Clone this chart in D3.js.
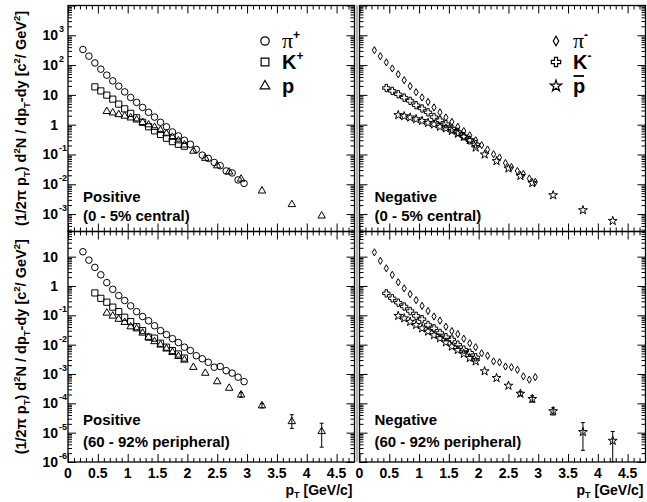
<!DOCTYPE html>
<html><head><meta charset="utf-8">
<script src="https://cdn.jsdelivr.net/npm/d3@7"></script>
<style>
body{margin:0;background:#fff;}
text{font-family:"Liberation Sans",Arial,sans-serif;font-weight:bold;fill:#000;}
</style></head>
<body><svg id="c" width="647" height="502"></svg>
<script>
// ---- data ----
const ptPi = [0.25,0.35,0.45,0.55,0.65,0.75,0.85,0.95,1.05,1.15,1.25,1.35,1.45,1.55,1.65,1.75,1.85,1.95,2.05,2.15,2.25,2.35,2.45,2.55,2.65,2.75,2.85,2.95];
const ptK = [0.45,0.55,0.65,0.75,0.85,0.95,1.05,1.15,1.25,1.35,1.45,1.55,1.65,1.75,1.85,1.95];
const ptP = [0.65,0.75,0.85,0.95,1.05,1.15,1.25,1.35,1.45,1.55,1.65,1.75,1.85,1.95,2.1,2.3,2.5,2.7,2.9,3.25,3.75,4.25];

// central 0-5%
const piPlusCentral = [333,200,118,73,46,29.5,19.6,12.6,8.2,5.6,3.8,2.6,1.8,1.2,0.85,0.57,0.42,0.30,0.22,0.148,0.095,0.074,0.054,0.042,0.028,0.024,0.014,0.0107];
const kPlusCentral = [18.6,13.6,9.8,7.2,4.9,3.4,2.4,1.7,1.2,0.85,0.62,0.47,0.35,0.27,0.22,0.19];
const pCentral = [2.8,2.5,2.2,1.95,1.7,1.45,1.2,1.0,0.82,0.65,0.5,0.38,0.29,0.21,0.13,0.075,0.042,0.026,0.015,0.006,0.0021,0.00087];
const piMinusCentral = [316,199,123,77,49.5,31,19.6,12.3,8.2,5.8,3.8,2.6,1.75,1.24,0.85,0.61,0.44,0.30,0.205,0.147,0.102,0.079,0.052,0.038,0.028,0.022,0.0156,0.012];
const kMinusCentral = [17,13.6,10.5,8.1,6.3,4.5,3.5,2.6,1.8,1.4,1.04,0.74,0.57,0.41,0.30,0.22];
const pbarCentral = [2.1,1.93,1.74,1.53,1.34,1.15,1.02,0.85,0.75,0.62,0.5,0.39,0.3,0.17,0.1,0.06,0.034,0.019,0.011,0.0043,0.00135,0.00059];

// peripheral 60-92%
const piPlusPeriph = [14.7,7.6,4.3,2.4,1.3,0.77,0.47,0.32,0.21,0.134,0.091,0.065,0.044,0.030,0.022,0.016,0.0118,0.0082,0.0063,0.0042,0.0033,0.0025,0.0017,0.0018,0.0013,0.00107,0.00078,0.00055];
const kPlusPeriph = [0.58,0.38,0.28,0.19,0.134,0.086,0.061,0.041,0.030,0.018,0.0167,0.0112,0.0082,0.0063,0.0048,0.0035];
const pPeriph = [0.12,0.095,0.074,0.058,0.041,0.035,0.025,0.018,0.0128,0.0098,0.0072,0.0055,0.0040,0.0030,0.0017,0.00107,0.00055,0.00033,0.000195,8.3e-5,2.4e-5,1.1e-5];
const pPeriphErrLo = [null,null,null,null,null,null,null,null,null,null,null,null,null,null,null,null,null,null,1.6e-4,7.0e-5,1.4e-5,3.2e-6];
const pPeriphErrHi = [null,null,null,null,null,null,null,null,null,null,null,null,null,null,null,null,null,null,2.3e-4,9.8e-5,4.1e-5,2.1e-5];
const piMinusPeriph = [14,7.2,4.0,2.4,1.34,0.83,0.53,0.33,0.21,0.141,0.091,0.066,0.041,0.029,0.023,0.016,0.0112,0.0082,0.0051,0.0042,0.0027,0.0025,0.0018,0.0017,0.00139,0.00083,0.00064,0.00078];
const kMinusPeriph = [0.56,0.38,0.27,0.20,0.14,0.096,0.074,0.047,0.036,0.025,0.018,0.015,0.010,0.0068,0.0053,0.0037];
const pbarPeriph = [0.096,0.079,0.060,0.047,0.036,0.028,0.021,0.0165,0.012,0.0086,0.0066,0.0049,0.0035,0.0027,0.00124,0.00073,0.0004,0.000213,0.000141,5.4e-5,1.05e-5,5.3e-6];
const pbarPeriphErrLo = [null,null,null,null,null,null,null,null,null,null,null,null,null,null,null,null,null,1.8e-4,1.1e-4,4.0e-5,2.5e-6,1.0e-6];
const pbarPeriphErrHi = [null,null,null,null,null,null,null,null,null,null,null,null,null,null,null,null,null,2.5e-4,1.8e-4,7.0e-5,2.2e-5,1.1e-5];

const xTickLabels = ["0","0.5","1","1.5","2","2.5","3","3.5","4","4.5"];
const xTickValues = [0,0.5,1,1.5,2,2.5,3,3.5,4,4.5];
const yTopTicks = [1e-3,1e-2,1e-1,1,10,1e2,1e3];
const yBotTicks = [1e-6,1e-5,1e-4,1e-3,1e-2,1e-1,1,10];

// ---- layout ----
const svg = d3.select("#c");
const cols = [{x0:68,x1:354.5},{x0:359.5,x1:645.5}];
const rows = [{y0:5.5,y1:231.5,dom:[2.6e-4,1e4],ticks:yTopTicks},{y0:231.5,y1:462,dom:[1e-6,72],ticks:yBotTicks}];

const sym = {
  circle:d3.symbol(d3.symbolCircle,34),
  square:d3.symbol(d3.symbolSquare,38),
  triangle:d3.symbol(d3.symbolTriangle,24),
  diamond:d3.symbol(d3.symbolDiamond,15),
  cross:d3.symbol(d3.symbolCross,30),
  star:d3.symbol(d3.symbolStar,24)
};

const panels = [
  {c:0,r:0,series:[[ptPi,piPlusCentral,"circle"],[ptK,kPlusCentral,"square"],[ptP,pCentral,"triangle"]],lab:["Positive","(0 - 5% central)"]},
  {c:1,r:0,series:[[ptPi,piMinusCentral,"diamond"],[ptK,kMinusCentral,"cross"],[ptP,pbarCentral,"star"]],lab:["Negative","(0 - 5% central)"]},
  {c:0,r:1,series:[[ptPi,piPlusPeriph,"circle"],[ptK,kPlusPeriph,"square"],[ptP,pPeriph,"triangle",pPeriphErrLo,pPeriphErrHi]],lab:["Positive","(60 - 92% peripheral)"]},
  {c:1,r:1,series:[[ptPi,piMinusPeriph,"diamond"],[ptK,kMinusPeriph,"cross"],[ptP,pbarPeriph,"star",pbarPeriphErrLo,pbarPeriphErrHi]],lab:["Negative","(60 - 92% peripheral)"]}
];

// seam line
svg.append("line").attr("x1",357).attr("x2",357).attr("y1",5).attr("y2",462).attr("stroke","#b0b0b0").attr("stroke-width",2);

panels.forEach(P=>{
  const C = cols[P.c], R = rows[P.r];
  const x = d3.scaleLinear().domain([0,4.8]).range([C.x0,C.x1]);
  const y = d3.scaleLog().domain(R.dom).range([R.y1,R.y0]);
  const g = svg.append("g");
  const clipId = "clip"+P.c+P.r;
  svg.append("clipPath").attr("id",clipId).append("rect").attr("x",C.x0).attr("y",R.y0).attr("width",C.x1-C.x0).attr("height",R.y1-R.y0);

  // ticks
  const xMinor = d3.range(0,48).map(i=>i/10).filter(v=>Math.abs(v*2-Math.round(v*2))>1e-6);
  const yAll = y.ticks().filter(v=>v>=R.dom[0]&&v<=R.dom[1]);
  const yMaj = yAll.filter(v=>Math.abs(Math.log10(v)-Math.round(Math.log10(v)))<1e-9);
  const yMin = yAll.filter(v=>!yMaj.includes(v));
  const mk = (axis,vals,size,tr)=>{
    const a = g.append("g").attr("transform",tr).call(axis.tickValues(vals).tickSizeInner(-size).tickSizeOuter(0).tickFormat(""));
    a.select(".domain").remove();
    a.selectAll("line").attr("stroke","#000").attr("stroke-width",1);
  };
  mk(d3.axisBottom(x),xTickValues,8,`translate(0,${R.y1})`);
  mk(d3.axisBottom(x),xMinor,4,`translate(0,${R.y1})`);
  mk(d3.axisTop(x),xTickValues,8,`translate(0,${R.y0})`);
  mk(d3.axisTop(x),xMinor,4,`translate(0,${R.y0})`);
  mk(d3.axisLeft(y),yMaj,8,`translate(${C.x0},0)`);
  mk(d3.axisLeft(y),yMin,4,`translate(${C.x0},0)`);
  mk(d3.axisRight(y),yMaj,8,`translate(${C.x1},0)`);
  mk(d3.axisRight(y),yMin,4,`translate(${C.x1},0)`);

  g.append("rect").attr("x",C.x0).attr("y",R.y0).attr("width",C.x1-C.x0).attr("height",R.y1-R.y0)
    .attr("fill","none").attr("stroke","#000").attr("stroke-width",1.3);

  // data
  const dg = g.append("g").attr("clip-path",`url(#${clipId})`);
  P.series.forEach(([xs,ys,s,lo,hi])=>{
    if(lo){
      xs.forEach((xv,i)=>{
        if(lo[i]==null) return;
        const yl = y(Math.max(lo[i],R.dom[0])), yh = y(hi[i]);
        dg.append("line").attr("x1",x(xv)).attr("x2",x(xv)).attr("y1",yl).attr("y2",yh).attr("stroke","#000").attr("stroke-width",1);
        [yl,yh].forEach(yy=>dg.append("line").attr("x1",x(xv)-2).attr("x2",x(xv)+2).attr("y1",yy).attr("y2",yy).attr("stroke","#000").attr("stroke-width",1));
      });
    }
    dg.selectAll(null).data(xs.map((xv,i)=>[xv,ys[i]])).join("path")
      .attr("d",sym[s]).attr("transform",d=>`translate(${x(d[0])},${y(d[1])})`)
      .attr("fill","none").attr("stroke","#000").attr("stroke-width",1);
  });

  // y tick labels (left column only)
  if(P.c===0){
    R.ticks.forEach(v=>{
      const e = Math.round(Math.log10(v));
      const yy = y(v);
      const base = (e===0)?"1":"10";
      g.append("text").attr("x",58).attr("y",yy+5).attr("text-anchor","end").style("font-size","14px").text(base);
      if(e!==0 && e!==1){
        g.append("text").attr("x",59).attr("y",yy-3).attr("text-anchor","start").style("font-size","9px").text(e);
      }
    });
    // y title
    const cy = (R.y0+R.y1)/2;
    const t = svg.append("text").attr("transform",`translate(26,${cy}) rotate(-90)`).attr("text-anchor","middle").style("font-size","14.5px");
    const parts = [["(1/2π p",0],["T",1],[") d",0],["2",2],["N / dp",0],["T",1],["-dy [c",0],["2",2],["/ GeV",0],["2",2],["]",0]];
    let prev = 0;
    parts.forEach(([s,k])=>{
      const off = k===1?4:(k===2?-6:0);
      const ts = t.append("tspan").attr("dy",off-prev).text(s);
      if(k>0) ts.style("font-size","9.5px");
      prev = off;
    });
  }
  // x tick labels (bottom row only)
  if(P.r===1){
    xTickValues.forEach((v,i)=>{
      g.append("text").attr("x",x(v)).attr("y",478).attr("text-anchor","middle").style("font-size","14px").text(xTickLabels[i]);
    });
    const xt = svg.append("text").attr("x",C.x1-2).attr("y",495).attr("text-anchor","end").style("font-size","14px");
    xt.append("tspan").text("p");
    xt.append("tspan").attr("dy",3).style("font-size","9px").text("T");
    xt.append("tspan").attr("dy",-3).text(" [GeV/c]");
  }
  // annotations
  const ay = P.r===0?[202,221]:[425,447];
  g.append("text").attr("x",C.x0+15).attr("y",ay[0]).style("font-size","15px").text(P.lab[0]);
  g.append("text").attr("x",C.x0+15).attr("y",ay[1]).style("font-size","15px").text(P.lab[1]);
});

// legends
const legY = [41,62,86];
const legL = [["circle","π","+"],["square","K","+"],["triangle","p",""]];
const legR = [["diamond","π","-"],["cross","K","-"],["star","p",""]];
const bigSym = {circle:55,square:60,triangle:40,diamond:26,cross:48,star:40};
function legend(items,sx,tx){
  items.forEach(([s,lbl,sup],i)=>{
    svg.append("path").attr("d",d3.symbol(d3["symbol"+s[0].toUpperCase()+s.slice(1)],bigSym[s])())
      .attr("transform",`translate(${sx},${legY[i]})`).attr("fill","none").attr("stroke","#000").attr("stroke-width",1.2);
    const t = svg.append("text").attr("x",tx).attr("y",legY[i]+7).style("font-size","20px");
    if(lbl==="π"){ t.style("font-family","'Liberation Serif',serif").style("font-weight","normal").style("font-size","22px"); }
    t.append("tspan").text(lbl);
    if(sup) t.append("tspan").attr("dy",-9).style("font-size","12px").style("font-family","'Liberation Sans',sans-serif").style("font-weight","bold").text(sup);
  });
}
legend(legL,265,282);
legend(legR,556,573);
// antiproton bar
svg.append("line").attr("x1",573.5).attr("x2",584).attr("y1",76).attr("y2",76).attr("stroke","#000").attr("stroke-width",1.8);
</script></body></html>
